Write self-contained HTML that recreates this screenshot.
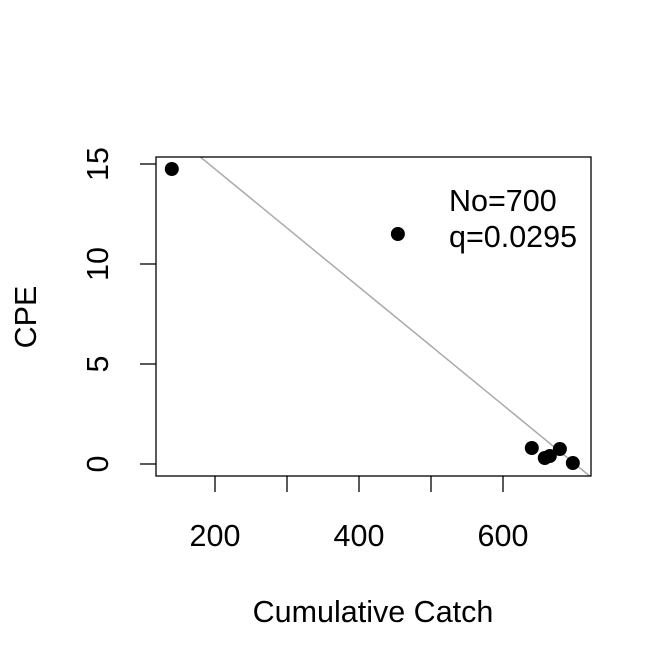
<!DOCTYPE html>
<html><head><meta charset="utf-8"><style>body{margin:0;background:#fff}svg{display:block}text{font-family:"Liberation Sans",sans-serif;fill:#000}</style></head>
<body>
<svg id="chart" width="672" height="672" viewBox="0 0 672 672" xmlns="http://www.w3.org/2000/svg"></svg>
<script>
const catchVals=[140,454,640,658,665,679,697];
const cpeVals=[14.75,11.5,0.8,0.3,0.4,0.75,0.05];
const xTicks=[200,300,400,500,600];
const xTickLabels=["200","","400","","600"];
const yTicks=[0,5,10,15];
const No=700, q=0.0295;
const L=156,R=591,T=157,B=476;
const FS=30.5;
const xs=v=>215+(v-200)*0.72;
const ys=v=>464-v*20;
const svg=document.getElementById('chart');
const NS='http://www.w3.org/2000/svg';
function mk(t,a,txt){const e=document.createElementNS(NS,t);for(const k in a)e.setAttribute(k,a[k]);if(txt!==undefined)e.textContent=txt;svg.appendChild(e);return e;}
const cp=mk('clipPath',{id:'clip'});const cr=document.createElementNS(NS,'rect');cr.setAttribute('x',L);cr.setAttribute('y',T);cr.setAttribute('width',R-L);cr.setAttribute('height',B-T);cp.appendChild(cr);
const c0=100,c1=760;
let ln=mk('line',{x1:xs(c0),y1:ys(q*(No-c0)),x2:xs(c1),y2:ys(q*(No-c1)),stroke:'#aaa','stroke-width':1.5,'clip-path':'url(#clip)'});

catchVals.forEach((c,i)=>{const p=mk('circle',{cx:xs(c),cy:ys(cpeVals[i]),r:7,fill:'#000'});
});
let box=mk('rect',{x:L,y:T,width:R-L,height:B-T,fill:'none',stroke:'#000','stroke-width':1.3});

xTicks.forEach((t,i)=>{const x=xs(t);mk('line',{x1:x,y1:B,x2:x,y2:B+16,stroke:'#000','stroke-width':1.3});
if(xTickLabels[i]){const e=mk('text',{x:x,y:546,'font-size':FS,'text-anchor':'middle'},xTickLabels[i]);}});
yTicks.forEach(t=>{const y=ys(t);mk('line',{x1:L-16,y1:y,x2:L,y2:y,stroke:'#000','stroke-width':1.3});
const e=mk('text',{x:0,y:0,'font-size':FS,'text-anchor':'middle',transform:`translate(108,${y}) rotate(-90)`},String(t));});
let xt=mk('text',{x:373,y:622,'font-size':FS,'text-anchor':'middle'},'Cumulative Catch');
let yt=mk('text',{x:0,y:0,'font-size':FS,'text-anchor':'middle',transform:'translate(36,317) rotate(-90)'},'CPE');
let a1=mk('text',{x:449,y:211,'font-size':FS},'No='+No);
let a2=mk('text',{x:449,y:247,'font-size':FS},'q='+q);
</script>
</body></html>
